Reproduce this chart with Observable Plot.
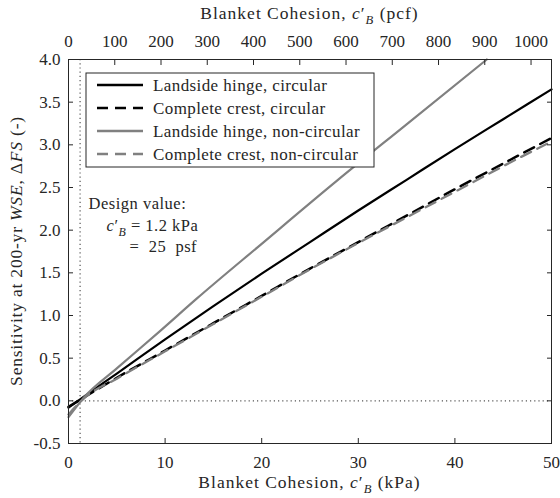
<!DOCTYPE html>
<html>
<head>
<meta charset="utf-8">
<script src="https://cdn.jsdelivr.net/npm/d3@7"></script>
<script src="https://cdn.jsdelivr.net/npm/@observablehq/plot@0.6"></script>
<style>
  body { margin: 0; background: #fff; }
  #chart { position: relative; width: 560px; height: 498px; }
  #chart svg, #chart svg text { font-family: "Liberation Serif", "DejaVu Serif", "Times New Roman", serif !important; }
</style>
</head>
<body>
<div id="chart"></div>
<script>
// Blanket cohesion c'_B (kPa) sampled for each sensitivity curve
const cohesionKPa = [0, 1.6, 5, 10, 15, 20, 25, 30, 35, 40, 45, 50];

// Sensitivity ΔFS at the 200-yr WSE
const hingeCircular      = [-0.08, 0.05, 0.32, 0.72, 1.11, 1.49, 1.86, 2.23, 2.59, 2.95, 3.30, 3.65];
const crestCircular      = [-0.07, 0.04, 0.27, 0.59, 0.91, 1.23, 1.55, 1.86, 2.17, 2.48, 2.78, 3.08];
const crestNonCircular   = [-0.16, 0.03, 0.26, 0.58, 0.90, 1.22, 1.54, 1.85, 2.15, 2.45, 2.75, 3.04];

// Landside hinge, non-circular leaves the axes at ΔFS = 4.0
const hingeNonCircKPa    = [0, 1.6, 5, 9.5, 13.3, 20, 27.8, 35, 43.3];
const hingeNonCircular   = [-0.19, 0.04, 0.38, 0.82, 1.20, 1.84, 2.58, 3.24, 4.0];

const seriesNames = [
  "Landside hinge, circular",
  "Complete crest, circular",
  "Landside hinge, non-circular",
  "Complete crest, non-circular"
];

// Design value of the blanket cohesion
const designKPa = 1.2;
const designPsf = 25;

// Axis ticks
const kpaTicks = [0, 10, 20, 30, 40, 50];
const pcfTicks = [0, 100, 200, 300, 400, 500, 600, 700, 800, 900, 1000];
const fsTicks  = [-0.5, 0, 0.5, 1, 1.5, 2, 2.5, 3, 3.5, 4];

const PSF_PER_KPA = 20.885;

const BLACK = "#000000";
const GREY = "#808080";
const DASH = "11,7";
const INK = "#262626";
const SERIF = "'Liberation Serif', 'DejaVu Serif', serif";

const lineStyles = [
  {stroke: BLACK, dash: null},
  {stroke: BLACK, dash: DASH},
  {stroke: GREY, dash: null},
  {stroke: GREY, dash: DASH}
];

const axisStyle = {tickSize: -5, label: null, fontSize: 17, stroke: INK, color: INK};

const plot = Plot.plot({
  width: 560,
  height: 498,
  marginLeft: 68,
  marginRight: 9,
  marginTop: 59,
  marginBottom: 55,
  x: {domain: [0, 50]},
  y: {domain: [-0.5, 4.0]},
  style: {fontFamily: SERIF, fontSize: "17px", color: INK, background: "#fff", overflow: "visible"},
  marks: [
    Plot.ruleY([0], {stroke: "#555", strokeWidth: 1.2, strokeDasharray: "1.2,3"}),
    Plot.ruleX([designKPa], {stroke: "#555", strokeWidth: 1.2, strokeDasharray: "1.2,3"}),
    Plot.line(hingeCircular, {x: cohesionKPa, y: hingeCircular, stroke: BLACK, strokeWidth: 2.2, curve: "monotone-x"}),
    Plot.line(crestCircular, {x: cohesionKPa, y: crestCircular, stroke: BLACK, strokeWidth: 2.5, strokeDasharray: DASH, curve: "monotone-x"}),
    Plot.line(hingeNonCircular, {x: hingeNonCircKPa, y: hingeNonCircular, stroke: GREY, strokeWidth: 2.2, curve: "monotone-x"}),
    Plot.line(crestNonCircular, {x: cohesionKPa, y: crestNonCircular, stroke: GREY, strokeWidth: 2.3, strokeDasharray: DASH, curve: "monotone-x"}),
    Plot.frame({stroke: INK, strokeWidth: 1}),
    Plot.axisX(kpaTicks, {...axisStyle, anchor: "bottom", tickPadding: 17, tickFormat: d => String(d)}),
    Plot.axisX(pcfTicks.map(p => p / PSF_PER_KPA), {...axisStyle, anchor: "top", tickPadding: 18,
      tickFormat: d => String(Math.round(d * PSF_PER_KPA))}),
    Plot.axisY(fsTicks, {...axisStyle, anchor: "left", tickPadding: 13, tickFormat: d => d.toFixed(1)}),
    Plot.axisY(fsTicks, {...axisStyle, anchor: "right", tickPadding: 0, tickFormat: () => ""})
  ]
});

document.getElementById("chart").appendChild(plot);

const xs = plot.scale("x");
const ys = plot.scale("y");
const svg = d3.select(plot);

// Write text made of plain, italic and subscript pieces
function richText(sel, parts, size) {
  parts.forEach(p => {
    const t = sel.append("tspan").text(p.t);
    if (p.i) t.attr("font-style", "italic");
    if (p.sub) t.attr("font-size", size * 0.72).attr("dy", size * 0.28);
    if (p.up) t.attr("dy", -size * 0.28);
  });
}

const cB = [{t: "c", i: true}, {t: "\u2032"}, {t: "B", i: true, sub: true}];

// Axis titles
const frameLeft = 68, frameRight = 551, frameTop = 59, frameBottom = 443;
const titleSize = 17.5;

function addText(parent, size, spacing, anchor) {
  return parent.append("text")
    .attr("font-family", SERIF).attr("font-size", size)
    .attr("letter-spacing", spacing).attr("text-anchor", anchor)
    .attr("fill", INK).attr("stroke", "none");
}

const bottomTitle = addText(svg, titleSize, 1, "middle")
  .attr("x", (frameLeft + frameRight) / 2).attr("y", 488);
richText(bottomTitle, [{t: "Blanket Cohesion, "}, ...cB, {t: " (kPa)", up: true}], titleSize);

const topTitle = addText(svg, titleSize, 1, "middle")
  .attr("x", (frameLeft + frameRight) / 2).attr("y", 19);
richText(topTitle, [{t: "Blanket Cohesion, "}, ...cB, {t: " (pcf)", up: true}], titleSize);

const yTitle = addText(svg, titleSize, 0.8, "middle")
  .attr("transform", `translate(22,${(frameTop + frameBottom) / 2}) rotate(-90)`);
richText(yTitle, [
  {t: "Sensitivity at 200-yr "}, {t: "WSE", i: true}, {t: ", \u0394"}, {t: "FS", i: true}, {t: " (-)"}
], titleSize);

// Design value note next to the dotted marker
const noteSize = 16.5;
const nx = xs.apply(designKPa) + 9;
const ny = ys.apply(2.3);
addText(svg, noteSize, 0.5, "start").attr("x", nx).attr("y", ny + 5).text("Design value:");
const l2 = addText(svg, noteSize, 0.5, "start").attr("x", nx + 18).attr("y", ny + 27);
richText(l2, [...cB, {t: " = " + designKPa + " kPa", up: true}], noteSize);
addText(svg, noteSize, 0.5, "start").attr("x", nx + 41).attr("y", ny + 48)
  .attr("xml:space", "preserve").text("=  " + designPsf + "  psf");

// Legend box
const lg = svg.append("g");
const box = {x: 86, y: 73, w: 288, h: 94};
lg.append("rect").attr("x", box.x).attr("y", box.y).attr("width", box.w).attr("height", box.h)
  .attr("fill", "#fff").attr("stroke", INK).attr("stroke-width", 1);
seriesNames.forEach((name, i) => {
  const cy = box.y + 12 + i * 23;
  const st = lineStyles[i];
  lg.append("line").attr("x1", box.x + 11).attr("x2", box.x + 57).attr("y1", cy).attr("y2", cy)
    .attr("stroke", st.stroke).attr("stroke-width", 2.3)
    .attr("stroke-dasharray", st.dash);
  addText(lg, 17, 0.4, "start").attr("x", box.x + 67).attr("y", cy).attr("dy", "0.34em").text(name);
});
</script>
</body>
</html>
